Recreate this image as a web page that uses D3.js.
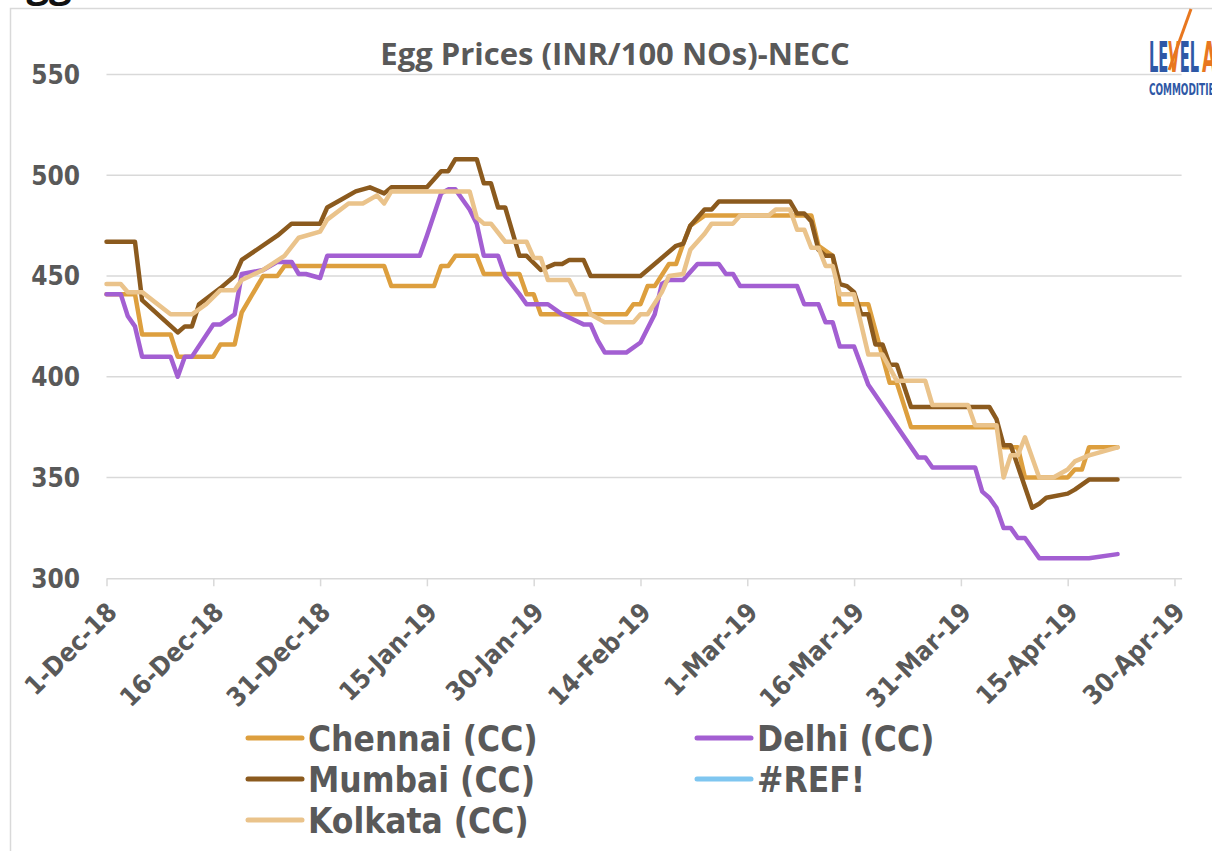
<!DOCTYPE html>
<html>
<head>
<meta charset="utf-8">
<script src="https://cdn.jsdelivr.net/npm/d3@7"></script>
<style>
  body { margin: 0; background: #fff; }
  svg { display: block; }
</style>
</head>
<body>
<script>
// x axis ticks, every 15 days
const tickLabels = ["1-Dec-18", "16-Dec-18", "31-Dec-18", "15-Jan-19", "30-Jan-19", "14-Feb-19",
  "1-Mar-19", "16-Mar-19", "31-Mar-19", "15-Apr-19", "30-Apr-19"];
const yTicks = [300, 350, 400, 450, 500, 550];

const seriesNames = ["Chennai (CC)", "Delhi (CC)", "Mumbai (CC)", "#REF!", "Kolkata (CC)"];
const seriesColors = ["#dd9f3e", "#a35fd2", "#8b5a1e", "#7fc6f0", "#eac38b"];

// prices (date, INR per 100 eggs)
const chennai = [
  ["1-Dec-18", 441], ["5-Dec-18", 441], ["6-Dec-18", 421], ["10-Dec-18", 421], ["11-Dec-18", 410],
  ["16-Dec-18", 410], ["17-Dec-18", 416], ["19-Dec-18", 416], ["20-Dec-18", 432], ["23-Dec-18", 450],
  ["25-Dec-18", 450], ["26-Dec-18", 455], ["9-Jan-19", 455], ["10-Jan-19", 445], ["16-Jan-19", 445],
  ["17-Jan-19", 455], ["18-Jan-19", 455], ["19-Jan-19", 460], ["22-Jan-19", 460], ["23-Jan-19", 451],
  ["28-Jan-19", 451], ["29-Jan-19", 441], ["30-Jan-19", 441], ["31-Jan-19", 431], ["12-Feb-19", 431],
  ["13-Feb-19", 436], ["14-Feb-19", 436], ["15-Feb-19", 445], ["16-Feb-19", 445], ["18-Feb-19", 456],
  ["19-Feb-19", 456], ["20-Feb-19", 466], ["21-Feb-19", 475], ["23-Feb-19", 480], ["10-Mar-19", 480],
  ["11-Mar-19", 465], ["13-Mar-19", 460], ["14-Mar-19", 436], ["18-Mar-19", 436], ["21-Mar-19", 397],
  ["22-Mar-19", 397], ["24-Mar-19", 375], ["5-Apr-19", 375], ["6-Apr-19", 365], ["8-Apr-19", 365],
  ["9-Apr-19", 350], ["15-Apr-19", 350], ["16-Apr-19", 354], ["17-Apr-19", 354], ["18-Apr-19", 365],
  ["22-Apr-19", 365]
];
const delhi = [
  ["1-Dec-18", 441], ["3-Dec-18", 441], ["4-Dec-18", 430], ["5-Dec-18", 425], ["6-Dec-18", 410],
  ["10-Dec-18", 410], ["11-Dec-18", 400], ["12-Dec-18", 410], ["13-Dec-18", 410], ["16-Dec-18", 426],
  ["17-Dec-18", 426], ["19-Dec-18", 431], ["20-Dec-18", 451], ["23-Dec-18", 453], ["25-Dec-18", 457],
  ["27-Dec-18", 457], ["28-Dec-18", 451], ["29-Dec-18", 451], ["31-Dec-18", 449], ["1-Jan-19", 460],
  ["14-Jan-19", 460], ["15-Jan-19", 470], ["17-Jan-19", 491], ["18-Jan-19", 493], ["19-Jan-19", 493],
  ["20-Jan-19", 488], ["21-Jan-19", 483], ["22-Jan-19", 476], ["23-Jan-19", 460], ["25-Jan-19", 460],
  ["26-Jan-19", 450], ["28-Jan-19", 441], ["29-Jan-19", 436], ["1-Feb-19", 436], ["3-Feb-19", 431],
  ["6-Feb-19", 426], ["7-Feb-19", 426], ["8-Feb-19", 418], ["9-Feb-19", 412], ["12-Feb-19", 412],
  ["14-Feb-19", 417], ["16-Feb-19", 431], ["17-Feb-19", 446], ["18-Feb-19", 448], ["20-Feb-19", 448],
  ["22-Feb-19", 456], ["25-Feb-19", 456], ["26-Feb-19", 451], ["27-Feb-19", 451], ["28-Feb-19", 445],
  ["8-Mar-19", 445], ["9-Mar-19", 436], ["11-Mar-19", 436], ["12-Mar-19", 427], ["13-Mar-19", 427],
  ["14-Mar-19", 415], ["16-Mar-19", 415], ["18-Mar-19", 396], ["25-Mar-19", 360], ["26-Mar-19", 360],
  ["27-Mar-19", 355], ["2-Apr-19", 355], ["3-Apr-19", 343], ["4-Apr-19", 340], ["5-Apr-19", 335],
  ["6-Apr-19", 325], ["7-Apr-19", 325], ["8-Apr-19", 320], ["9-Apr-19", 320], ["11-Apr-19", 310],
  ["18-Apr-19", 310], ["22-Apr-19", 312]
];
const mumbai = [
  ["1-Dec-18", 467], ["5-Dec-18", 467], ["6-Dec-18", 438], ["11-Dec-18", 422], ["12-Dec-18", 425],
  ["13-Dec-18", 425], ["14-Dec-18", 436], ["17-Dec-18", 444], ["19-Dec-18", 450], ["20-Dec-18", 458],
  ["25-Dec-18", 470], ["27-Dec-18", 476], ["31-Dec-18", 476], ["1-Jan-19", 484], ["3-Jan-19", 488],
  ["5-Jan-19", 492], ["7-Jan-19", 494], ["9-Jan-19", 491], ["10-Jan-19", 494], ["15-Jan-19", 494],
  ["17-Jan-19", 502], ["18-Jan-19", 502], ["19-Jan-19", 508], ["22-Jan-19", 508], ["23-Jan-19", 496],
  ["24-Jan-19", 496], ["25-Jan-19", 484], ["26-Jan-19", 484], ["28-Jan-19", 460], ["29-Jan-19", 460],
  ["31-Jan-19", 453], ["2-Feb-19", 456], ["3-Feb-19", 456], ["4-Feb-19", 458], ["6-Feb-19", 458],
  ["7-Feb-19", 450], ["14-Feb-19", 450], ["19-Feb-19", 465], ["20-Feb-19", 466], ["21-Feb-19", 475],
  ["23-Feb-19", 483], ["24-Feb-19", 483], ["25-Feb-19", 487], ["7-Mar-19", 487], ["8-Mar-19", 481],
  ["9-Mar-19", 481], ["10-Mar-19", 477], ["11-Mar-19", 463], ["12-Mar-19", 460], ["13-Mar-19", 460],
  ["14-Mar-19", 446], ["15-Mar-19", 445], ["16-Mar-19", 442], ["17-Mar-19", 431], ["18-Mar-19", 431],
  ["19-Mar-19", 416], ["20-Mar-19", 416], ["21-Mar-19", 406], ["22-Mar-19", 406], ["24-Mar-19", 385],
  ["4-Apr-19", 385], ["5-Apr-19", 379], ["6-Apr-19", 366], ["7-Apr-19", 366], ["10-Apr-19", 335],
  ["11-Apr-19", 337], ["12-Apr-19", 340], ["15-Apr-19", 342], ["16-Apr-19", 344], ["18-Apr-19", 349],
  ["22-Apr-19", 349]
];
const refSeries = [];
const kolkata = [
  ["1-Dec-18", 446], ["3-Dec-18", 446], ["4-Dec-18", 442], ["6-Dec-18", 442], ["10-Dec-18", 431],
  ["13-Dec-18", 431], ["15-Dec-18", 436], ["17-Dec-18", 443], ["19-Dec-18", 443], ["20-Dec-18", 448],
  ["23-Dec-18", 453], ["26-Dec-18", 460], ["28-Dec-18", 469], ["31-Dec-18", 472], ["1-Jan-19", 478],
  ["4-Jan-19", 486], ["6-Jan-19", 486], ["8-Jan-19", 490], ["9-Jan-19", 486], ["10-Jan-19", 492],
  ["21-Jan-19", 492], ["22-Jan-19", 479], ["23-Jan-19", 476], ["24-Jan-19", 476], ["26-Jan-19", 467],
  ["29-Jan-19", 467], ["30-Jan-19", 459], ["31-Jan-19", 459], ["1-Feb-19", 448], ["4-Feb-19", 448],
  ["5-Feb-19", 441], ["6-Feb-19", 441], ["7-Feb-19", 431], ["9-Feb-19", 427], ["13-Feb-19", 427],
  ["14-Feb-19", 431], ["15-Feb-19", 431], ["17-Feb-19", 442], ["18-Feb-19", 450], ["20-Feb-19", 451],
  ["21-Feb-19", 463], ["22-Feb-19", 467], ["23-Feb-19", 471], ["24-Feb-19", 476], ["27-Feb-19", 476],
  ["28-Feb-19", 480], ["4-Mar-19", 480], ["5-Mar-19", 483], ["7-Mar-19", 483], ["8-Mar-19", 473],
  ["9-Mar-19", 473], ["10-Mar-19", 464], ["11-Mar-19", 464], ["12-Mar-19", 455], ["13-Mar-19", 455],
  ["14-Mar-19", 441], ["16-Mar-19", 441], ["18-Mar-19", 411], ["20-Mar-19", 411], ["22-Mar-19", 398],
  ["26-Mar-19", 398], ["27-Mar-19", 386], ["1-Apr-19", 386], ["2-Apr-19", 376], ["5-Apr-19", 376],
  ["6-Apr-19", 350], ["7-Apr-19", 361], ["8-Apr-19", 361], ["9-Apr-19", 370], ["11-Apr-19", 350],
  ["13-Apr-19", 350], ["15-Apr-19", 354], ["16-Apr-19", 358], ["18-Apr-19", 361], ["22-Apr-19", 365]
];
const seriesData = [chennai, delhi, mumbai, refSeries, kolkata];

const width = 1212, height = 851;
const labelFont = "'DejaVu Sans Condensed', 'DejaVu Sans', sans-serif";
const logoFont = "'Liberation Sans Narrow', 'DejaVu Sans Condensed', sans-serif";
const textGray = "#595959";
const gridGray = "#d9d9d9";
const parseDate = d3.timeParse("%d-%b-%y");

const svg = d3.select("body").append("svg")
  .attr("width", width)
  .attr("height", height);

// chart frame (cut by the screenshot on the right and bottom)
svg.append("path")
  .attr("d", `M10.5,${height}V8.5H${width}`)
  .attr("fill", "none")
  .attr("stroke", gridGray)
  .attr("stroke-width", 1.5);

// a heading above the frame that is mostly cropped away
svg.append("text")
  .attr("x", 4)
  .attr("y", -3)
  .style("font-family", "'Open Sans', sans-serif")
  .style("font-weight", "bold")
  .style("font-size", "40px")
  .attr("fill", "#111")
  .text("Egg Prices");

const x = d3.scaleTime()
  .domain([parseDate("1-Dec-18"), parseDate("1-May-19")])
  .range([106.5, 1181.6]);
const y = d3.scaleLinear()
  .domain([300, 550])
  .range([578.3, 74.5]);

// gridlines
svg.append("g")
  .selectAll("line")
  .data(yTicks.filter(v => v > 300))
  .join("line")
  .attr("x1", x.range()[0])
  .attr("x2", x.range()[1])
  .attr("y1", d => y(d))
  .attr("y2", d => y(d))
  .attr("stroke", gridGray)
  .attr("stroke-width", 1.5);

// y labels
svg.append("g")
  .selectAll("text")
  .data(yTicks)
  .join("text")
  .attr("x", 80)
  .attr("y", d => y(d))
  .attr("dy", "0.36em")
  .attr("text-anchor", "end")
  .style("font-family", labelFont)
  .style("font-weight", "bold")
  .style("font-size", "26px")
  .attr("fill", textGray)
  .text(d => d);

// x axis
const xAxis = d3.axisBottom(x)
  .tickValues(tickLabels.map(parseDate))
  .tickFormat((d, i) => tickLabels[i])
  .tickSize(8)
  .tickSizeOuter(0);

const gx = svg.append("g")
  .attr("transform", `translate(0,${y(300)})`)
  .call(xAxis);

gx.select(".domain").attr("stroke", gridGray).attr("stroke-width", 1.5);
gx.selectAll(".tick line").attr("stroke", gridGray).attr("stroke-width", 1.5);
gx.selectAll(".tick text")
  .attr("x", 0)
  .attr("y", 0)
  .attr("dy", "0.35em")
  .attr("transform", "translate(5,29) rotate(-45)")
  .attr("text-anchor", "end")
  .attr("fill", textGray)
  .style("font-family", labelFont)
  .style("font-weight", "bold")
  .style("font-size", "26px");

// series
const line = d3.line()
  .x(d => x(parseDate(d[0])))
  .y(d => y(d[1]));

svg.append("g")
  .selectAll("path")
  .data(seriesData)
  .join("path")
  .attr("d", d => d.length ? line(d) : null)
  .attr("fill", "none")
  .attr("stroke", (d, i) => seriesColors[i])
  .attr("stroke-width", 4.5)
  .attr("stroke-linejoin", "round")
  .attr("stroke-linecap", "round");

// title
svg.append("text")
  .attr("x", 615)
  .attr("y", 65)
  .attr("text-anchor", "middle")
  .style("font-family", "'Open Sans', sans-serif")
  .style("font-weight", "bold")
  .style("font-size", "31px")
  .attr("fill", textGray)
  .text("Egg Prices (INR/100 NOs)-NECC");

// logo, cropped at the right edge
const logo = svg.append("g");
logo.append("path")
  .attr("d", "M1169,70L1191,9")
  .attr("stroke", "#e8771f")
  .attr("stroke-width", 3);
const logoText = logo.append("text")
  .attr("x", 1149)
  .attr("y", 72)
  .attr("textLength", 50)
  .attr("lengthAdjust", "spacingAndGlyphs")
  .style("font-family", logoFont)
  .style("font-weight", "bold")
  .style("font-size", "42px");
logoText.append("tspan").attr("fill", "#2e58a6").text("LE");
logoText.append("tspan").attr("fill", "#e8771f").text("V");
logoText.append("tspan").attr("fill", "#2e58a6").text("EL");
logo.append("text")
  .attr("x", 1202)
  .attr("y", 72)
  .attr("textLength", 14)
  .attr("lengthAdjust", "spacingAndGlyphs")
  .style("font-family", logoFont)
  .style("font-weight", "bold")
  .style("font-size", "42px")
  .attr("fill", "#e8771f")
  .text("A");
logo.append("text")
  .attr("x", 1149)
  .attr("y", 95)
  .attr("textLength", 72)
  .attr("lengthAdjust", "spacingAndGlyphs")
  .style("font-family", logoFont)
  .style("font-weight", "bold")
  .style("font-size", "16px")
  .attr("fill", "#2e58a6")
  .text("COMMODITIES");

// legend, two columns
const legend = svg.append("g")
  .selectAll("g")
  .data(seriesNames)
  .join("g")
  .attr("transform", (d, i) => `translate(${248 + (i % 2) * 449},${738 + Math.floor(i / 2) * 41})`);

legend.append("line")
  .attr("x1", 0)
  .attr("x2", 54)
  .attr("stroke", (d, i) => seriesColors[i])
  .attr("stroke-width", 5)
  .attr("stroke-linecap", "round");

legend.append("text")
  .attr("x", 60)
  .attr("dy", "0.36em")
  .style("font-family", labelFont)
  .style("font-weight", "bold")
  .style("font-size", "35px")
  .attr("fill", textGray)
  .text(d => d);
</script>
</body>
</html>
